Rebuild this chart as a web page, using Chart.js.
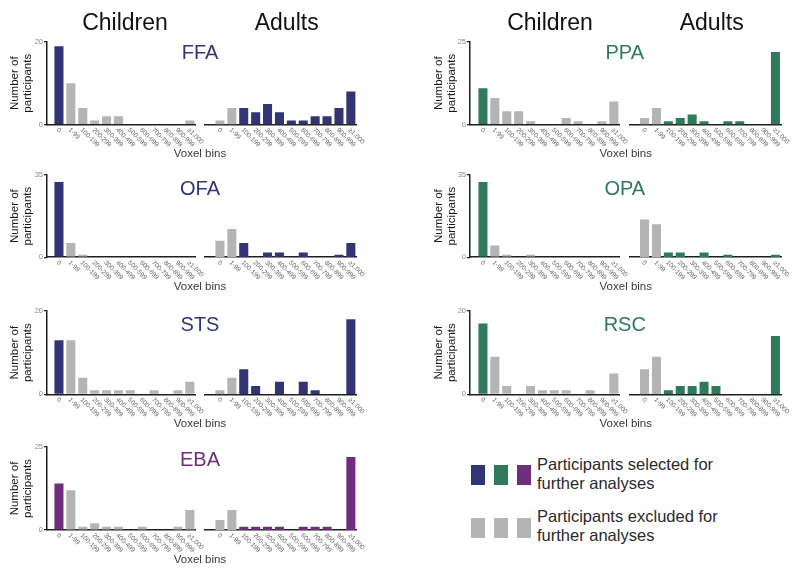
<!DOCTYPE html>
<html><head><meta charset="utf-8">
<script src="https://cdn.jsdelivr.net/npm/chart.js@4.4.1/dist/chart.umd.min.js"></script>
<style>
html,body{margin:0;padding:0;background:#fff;}
#page{position:relative;width:800px;height:573px;overflow:hidden;font-family:"Liberation Sans",Arial,Helvetica,sans-serif;}
.box{position:absolute;}
.txt{position:absolute;white-space:nowrap;line-height:1;}
.sw{position:absolute;width:14px;height:20px;}
</style></head><body><div id="page"></div>
<script>
// ---------- DATA ----------
const binLabels = ['0','1-99','100-199','200-299','300-399','400-499','500-599','600-699','700-799','800-899','900-999','\u22651,000'];
const roiNames = ['FFA','OFA','STS','EBA','PPA','OPA','RSC'];
const yAxisMax = [20, 35, 20, 25, 25, 35, 20];

const ffaChildren = [19,10,4,1,2,2,0,0,0,0,0,1];
const ffaAdults   = [1,4,4,3,5,3,1,1,2,2,4,8];
const ofaChildren = [32,6,1,0,0,0,0,0,0,0,0,0];
const ofaAdults   = [7,12,6,0,2,2,0,2,0,0,1,6];
const stsChildren = [13,13,4,1,1,1,1,0,1,0,1,3];
const stsAdults   = [1,4,6,2,0,3,0,3,1,0,0,18];
const ebaChildren = [14,12,1,2,1,1,0,1,0,0,1,6];
const ebaAdults   = [3,6,1,1,1,1,0,1,1,1,0,22];
const ppaChildren = [11,8,4,4,1,0,0,2,1,0,1,7];
const ppaAdults   = [2,5,1,2,3,1,0,1,1,0,0,22];
const opaChildren = [32,5,1,0,1,0,0,0,0,0,0,0];
const opaAdults   = [16,14,2,2,0,2,0,1,0,0,0,1];
const rscChildren = [17,9,2,0,2,1,1,1,0,1,0,5];
const rscAdults   = [6,9,1,2,2,3,2,0,0,0,0,14];

// selected bins (coloured) per group: children keep bin "0", adults keep bins >= 100
const childrenSelected = [true,false,false,false,false,false,false,false,false,false,false,false];
const adultsSelected   = [false,false,true,true,true,true,true,true,true,true,true,true];

// ---------- STYLE / LAYOUT ----------
const COLORS = {navy:'#323473', green:'#2F7A5B', purple:'#6F2E79', gray:'#B4B4B4'};
const FONT = '"Liberation Sans", Arial, Helvetica, sans-serif';
Chart.defaults.font.family = FONT;

const panels = [
  {roi:0, col:0, row:0, color:COLORS.navy,   ch:ffaChildren, ad:ffaAdults},
  {roi:1, col:0, row:1, color:COLORS.navy,   ch:ofaChildren, ad:ofaAdults},
  {roi:2, col:0, row:2, color:COLORS.navy,   ch:stsChildren, ad:stsAdults},
  {roi:3, col:0, row:3, color:COLORS.purple, ch:ebaChildren, ad:ebaAdults},
  {roi:4, col:1, row:0, color:COLORS.green,  ch:ppaChildren, ad:ppaAdults},
  {roi:5, col:1, row:1, color:COLORS.green,  ch:opaChildren, ad:opaAdults},
  {roi:6, col:1, row:2, color:COLORS.green,  ch:rscChildren, ad:rscAdults}
];
const rows = [
  {top:41.5, base:124, roiBase:59.3},
  {top:174.5, base:256.7, roiBase:195},
  {top:310.7, base:394, roiBase:330.5},
  {top:447, base:530, roiBase:466}
];
const cols = [
  {ch:{left:53, right:195.8, gap:6, box:[0,215]}, ad:{left:214, right:356.8, gap:9, box:[200,380]}, roiX:200, voxX:200},
  {ch:{left:477, right:619.8, gap:7, box:[424,634]}, ad:{left:638.6, right:781.4, gap:8.6, box:[625,800]}, roiX:624.8, voxX:625.8}
];

const page = document.getElementById('page');

function addText(txt, cx, baseline, size, color, align){
  const d = document.createElement('div');
  d.className = 'txt';
  d.textContent = txt;
  d.style.fontSize = size + 'px';
  d.style.color = color;
  d.style.top = (baseline - 0.8465*size) + 'px';
  if (align === 'left') { d.style.left = cx + 'px'; }
  else { d.style.left = cx + 'px'; d.style.transform = 'translateX(-50%)'; }
  page.appendChild(d);
}

const shiftPlugin = {
  id: 'shift',
  afterLayout(chart, args, opts) {
    const g = opts.gap || 0;
    if (chart.scales.y) chart.scales.y.right -= g;
    if (chart.scales.x) chart.scales.x.left -= g;
  }
};
const rotLabels = {
  id: 'rotLabels',
  afterDraw(chart) {
    const xs = chart.scales.x, ctx = chart.ctx, b = chart.chartArea.bottom;
    ctx.save();
    ctx.font = '6.5px ' + FONT;
    ctx.fillStyle = '#666';
    ctx.textAlign = 'left';
    ctx.textBaseline = 'middle';
    chart.data.labels.forEach((lab, i) => {
      const px = xs.getPixelForTick(i);
      ctx.save();
      ctx.translate(px - 1.5, b + 4.5);
      ctx.rotate(Math.PI / 4);
      ctx.fillText(lab, 0, 0);
      ctx.restore();
    });
    ctx.restore();
  }
};

function makeChart(p, isChild) {
  const c = cols[p.col][isChild ? 'ch' : 'ad'];
  const r = rows[p.row];
  const PT = 10, PB = 42, YW = 53;
  const L = c.box[0], W = c.box[1] - c.box[0];
  const div = document.createElement('div');
  div.className = 'box';
  div.style.left = L + 'px';
  div.style.top = (r.top - PT) + 'px';
  div.style.width = W + 'px';
  div.style.height = (r.base - r.top + PT + PB) + 'px';
  const cv = document.createElement('canvas');
  div.appendChild(cv);
  page.appendChild(div);
  const vals = isChild ? p.ch : p.ad;
  const sel = isChild ? childrenSelected : adultsSelected;
  const padLeft = isChild ? (c.left - L - YW) : (c.left - L);
  const padRight = c.box[1] - c.right;
  const maxV = yAxisMax[p.roi];
  new Chart(cv, {
    type: 'bar',
    data: {
      labels: binLabels,
      datasets: [{
        data: vals,
        backgroundColor: vals.map((v, i) => sel[i] ? p.color : COLORS.gray),
        borderWidth: 0,
        barPercentage: 0.76,
        categoryPercentage: 1
      }]
    },
    options: {
      responsive: true, maintainAspectRatio: false, animation: false, events: [],
      layout: {padding: {top: PT, bottom: PB, left: padLeft, right: padRight}},
      plugins: {legend: {display: false}, tooltip: {enabled: false}, shift: {gap: c.gap}},
      scales: {
        x: {
          type: 'category', offset: true,
          grid: {display: false},
          border: {display: true, color: '#1f1f1f', width: 1.6},
          ticks: {display: false},
          afterFit: s => { s.height = 0; }
        },
        y: {
          display: isChild, min: 0, max: maxV,
          ticks: {stepSize: maxV, color: '#888', font: {size: 7.5}, padding: 1},
          grid: {display: true, drawOnChartArea: false, drawTicks: true, tickLength: 3, color: '#1f1f1f', lineWidth: 1.2},
          border: {display: true, color: '#1f1f1f', width: 1.5},
          title: {display: true, text: ['Number of', 'participants'], color: '#1a1a1a',
                  font: {size: 11.5, lineHeight: 1.13}, padding: {top: 8.5, bottom: 0}},
          afterFit: s => { s.width = isChild ? YW : 0; }
        }
      }
    },
    plugins: [shiftPlugin, rotLabels]
  });
}

panels.forEach(p => {
  makeChart(p, true);
  makeChart(p, false);
  const r = rows[p.row], c = cols[p.col];
  addText(roiNames[p.roi], c.roiX, r.roiBase, 20, p.color === COLORS.navy ? '#33357A' : p.color);
  addText('Voxel bins', c.voxX, r.base + 34, 11.5, '#3a3a3a');
});

// Column headers
addText('Children', 125, 30, 23, '#111');
addText('Adults', 286.7, 30, 23, '#111');
addText('Children', 550, 30, 23, '#111');
addText('Adults', 711.7, 30, 23, '#111');

// Legend
const legendSelected = [COLORS.navy, COLORS.green, COLORS.purple];
const legendExcluded = [COLORS.gray, COLORS.gray, COLORS.gray];
const swX = [471, 494, 517];
function swatch(x, y, col){
  const d = document.createElement('div'); d.className = 'sw';
  d.style.left = x + 'px'; d.style.top = y + 'px'; d.style.background = col;
  page.appendChild(d);
}
legendSelected.forEach((col, i) => swatch(swX[i], 464.5, col));
legendExcluded.forEach((col, i) => swatch(swX[i], 517.5, col));
addText('Participants selected for', 537, 470, 16.5, '#2a2a2a', 'left');
addText('further analyses', 537, 489, 16.5, '#2a2a2a', 'left');
addText('Participants excluded for', 537, 522, 16.5, '#2a2a2a', 'left');
addText('further analyses', 537, 541.3, 16.5, '#2a2a2a', 'left');
</script></body></html>
